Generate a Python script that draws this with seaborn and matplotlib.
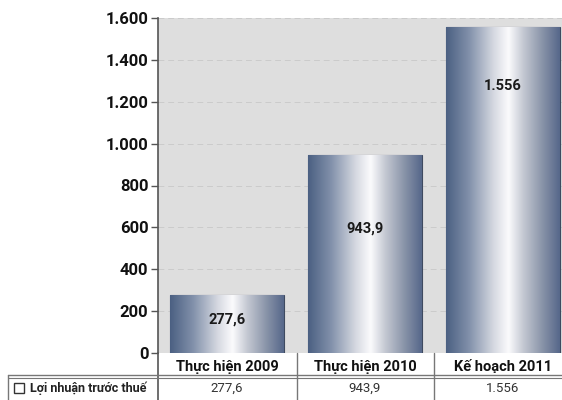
import numpy as np
import pandas as pd
import matplotlib
matplotlib.use("Agg")
import matplotlib.pyplot as plt
import seaborn as sns
from matplotlib.colors import LinearSegmentedColormap
from matplotlib.ticker import FuncFormatter, FixedLocator
from matplotlib.patches import Rectangle
from matplotlib.lines import Line2D

categories = ["Thực hiện 2009", "Thực hiện 2010", "Kế hoạch 2011"]
values = [277.6, 943.9, 1556]
value_labels = ["277,6", "943,9", "1.556"]
series_name = "Lợi nhuận trước thuế"
yticks = [0, 200, 400, 600, 800, 1000, 1200, 1400, 1600]
label_pos = [0.58, 0.63, 0.82]  # fraction of bar height for in-bar labels

sns.set_theme(style="white")
plt.rcParams["font.family"] = ["Roboto", "DejaVu Sans"]

W, H = 562, 400
fig = plt.figure(figsize=(W / 100, H / 100), dpi=100)
fig.patch.set_facecolor("white")

# axes in pixel coords
x0, x1 = 158, 572
ytop, ybot = 18, 353
ax = fig.add_axes([x0 / W, 1 - ybot / H, (x1 - x0) / W, (ybot - ytop) / H])
ax.set_facecolor("#dedede")

df = pd.DataFrame({"cat": categories, "val": values})
sns.barplot(data=df, x="cat", y="val", ax=ax, width=0.82, color="#7a8aa5",
            edgecolor="#3e4a60", linewidth=0.8, zorder=3)

cmap = LinearSegmentedColormap.from_list("metal", [
    (0.0, "#4b6082"), (0.2, "#8190aa"), (0.42, "#d6d9e1"), (0.55, "#fbfbfd"),
    (0.68, "#c4c8d2"), (0.85, "#8893a8"), (1.0, "#56678a")])
grad = np.linspace(0, 1, 256).reshape(1, -1)
for p in ax.patches:
    bx, by = p.get_x(), p.get_y()
    bw, bh = p.get_width(), p.get_height()
    im = ax.imshow(grad, cmap=cmap, aspect="auto",
                   extent=[bx, bx + bw, by, by + bh], zorder=3.5,
                   interpolation="bicubic")
    im.set_clip_path(p)

ax.set_ylim(0, 1600)
ax.set_xlim(-0.5, 2.5)
ax.yaxis.set_major_locator(FixedLocator(yticks))
ax.yaxis.set_major_formatter(FuncFormatter(lambda v, _: f"{int(v):,}".replace(",", ".")))
ax.grid(axis="y", color="#cbcbcb", linewidth=0.7, linestyle=(0, (6, 4)), zorder=1)
ax.set_xlabel("")
ax.set_ylabel("")
for s in ["top", "right", "bottom"]:
    ax.spines[s].set_visible(False)
ax.spines["left"].set_color("#555555")
ax.spines["left"].set_linewidth(1.2)
ax.tick_params(axis="y", which="major", left=True, length=5, width=1.0,
               color="#555555", pad=2, labelsize=12)
for lab in ax.get_yticklabels():
    lab.set_fontweight("bold")
    lab.set_color("#111111")
ax.tick_params(axis="x", bottom=False, labelbottom=True, pad=4, labelsize=10.5)
for lab in ax.get_xticklabels():
    lab.set_fontweight("bold")
    lab.set_color("#111111")
    lab.set_verticalalignment("center")

for i, (v, t) in enumerate(zip(values, value_labels)):
    ax.text(i, v * label_pos[i], t, ha="center", va="center", fontsize=10.5,
            fontweight="bold", color="#1a1a1a", zorder=5)

# table lines (figure pixel coords)
def fx(px):
    return px / W
def fy(py):
    return 1 - py / H

lc = "#777777"
fig.add_artist(Line2D([fx(x0), fx(x0)], [fy(ybot), fy(400)], color="#555555", lw=1.2))
for xs in [297, 434]:
    fig.add_artist(Line2D([fx(xs), fx(xs)], [fy(ybot), fy(400)], color=lc, lw=1.0))
fig.add_artist(Line2D([fx(8), fx(W)], [fy(375), fy(375)], color=lc, lw=1.0))
fig.add_artist(Line2D([fx(8), fx(W)], [fy(377.5), fy(377.5)], color=lc, lw=0.8))
fig.add_artist(Line2D([fx(8), fx(8)], [fy(375), fy(400)], color=lc, lw=1.0))

# row label with square marker
fig.add_artist(Rectangle((fx(14), fy(393)), 10 / W, 10 / H, transform=fig.transFigure,
                         facecolor="white", edgecolor="#333333", lw=1.0))
fig.text(fx(30), fy(388), series_name, ha="left", va="center", fontsize=9,
         fontweight="bold", color="#222222")

centers = [227, 365, 503]
for c, t in zip(centers, value_labels):
    fig.text(fx(c), fy(388), t, ha="center", va="center", fontsize=9.5, color="#333333")

fig.savefig("out.png", dpi=100)
